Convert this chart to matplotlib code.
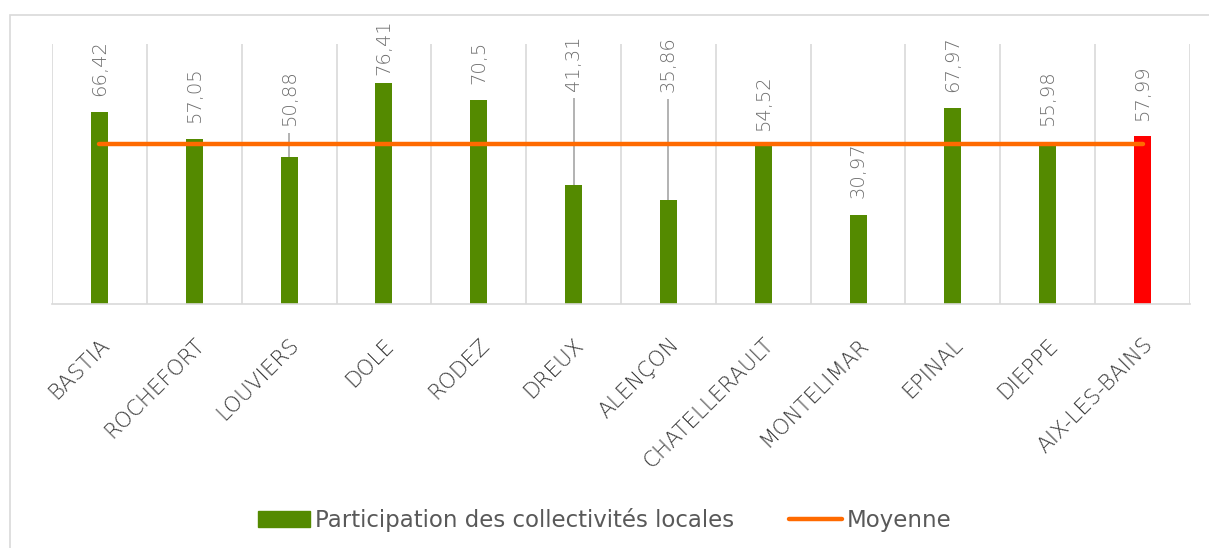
import numpy as np
import matplotlib.pyplot as plt
from matplotlib.patches import Rectangle, Patch
from matplotlib.lines import Line2D

# donnees
villes = ["BASTIA", "ROCHEFORT", "LOUVIERS", "DOLE", "RODEZ", "DREUX", "ALENÇON",
          "CHATELLERAULT", "MONTELIMAR", "EPINAL", "DIEPPE", "AIX-LES-BAINS"]
participation = [66.42, 57.05, 50.88, 76.41, 70.5, 41.31, 35.86, 54.52, 30.97, 67.97, 55.98, 57.99]
etiquettes = ["66,42", "57,05", "50,88", "76,41", "70,5", "41,31", "35,86",
              "54,52", "30,97", "67,97", "55,98", "57,99"]
moyenne = [55.49] * 12

# position du bas des etiquettes (unites de l'axe)
label_y = [71.9, 62.6, 61.7, 79.2, 76.2, 73.8, 73.4, 60.0, 36.6, 73.5, 61.5, 63.3]

vert = "#548A00"
rouge = "#FF0000"
orange = "#FF6A00"
couleurs = [vert] * 11 + [rouge]

fig = plt.figure(figsize=(12.09, 5.48), dpi=100)
ax = fig.add_axes([52 / 1209, 1 - 304 / 548, (1190 - 52) / 1209, (304 - 44) / 548])

x = np.arange(len(villes))
ax.bar(x, participation, width=0.18, color=couleurs, zorder=2)
ax.plot(x, moyenne, color=orange, lw=3.2, solid_capstyle="round", zorder=3)

for i in range(len(villes)):
    ax.text(x[i], label_y[i], etiquettes[i], rotation=90, ha="center", va="bottom",
            fontsize=14, color="#6e6e6e", fontweight="light")
    if label_y[i] - participation[i] > 10:
        ax.vlines(x[i], participation[i], label_y[i] - 2.5, color="#a6a6a6", lw=1.2, zorder=1)

ax.set_xlim(-0.5, 11.5)
ax.set_ylim(0, 90)
ax.set_yticks([])
ax.set_xticks(x)
ax.set_xticklabels(villes, rotation=45, ha="right", rotation_mode="anchor",
                   fontsize=15.5, color="#3a3a3a", fontweight="light")
ax.tick_params(axis="x", length=0, pad=22)
for b in np.arange(-0.5, 12, 1):
    ax.axvline(b, color="#d9d9d9", lw=1.2, zorder=0)
for s in ["top", "left", "right"]:
    ax.spines[s].set_visible(False)
ax.spines["bottom"].set_color("#d9d9d9")
ax.spines["bottom"].set_linewidth(1.2)

handles = [Patch(color=vert), Line2D([0], [0], color=orange, lw=3.2, solid_capstyle="round")]
fig.legend(handles, ["Participation des collectivités locales", "Moyenne"],
           loc="center", bbox_to_anchor=(0.5, 1 - 520 / 548), ncol=2, frameon=False,
           fontsize=16.5, labelcolor="#595959", handlelength=2.3, handleheight=0.7,
           handletextpad=0.2, columnspacing=2.4)

fig.patches.append(Rectangle((10 / 1209, -0.1), 1.2, 1 - 15 / 548 + 0.1, transform=fig.transFigure,
                             fill=False, edgecolor="#d9d9d9", lw=1.2))

fig.savefig("out.png", dpi=100)
